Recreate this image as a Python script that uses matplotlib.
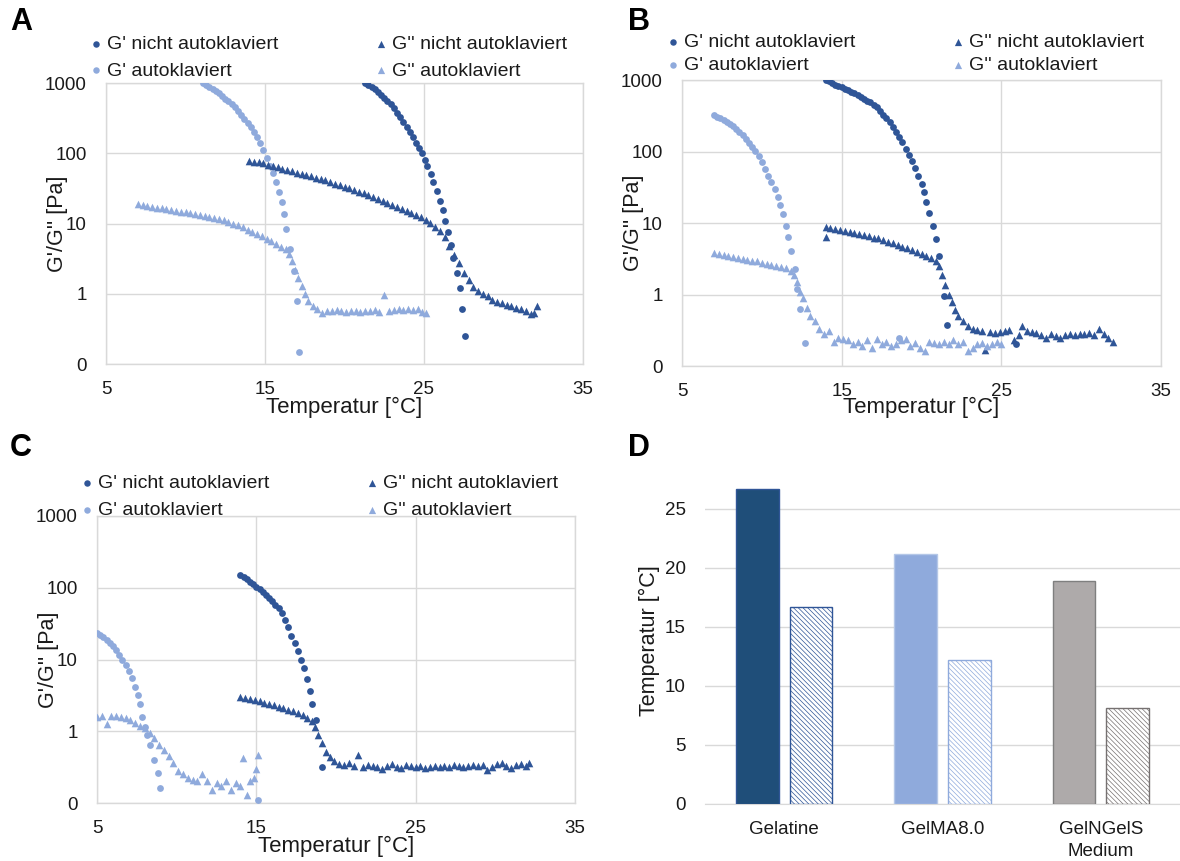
import matplotlib
matplotlib.use("Agg")
import matplotlib.pyplot as plt

plt.rcParams['font.family'] = ['Liberation Sans', 'DejaVu Sans']
plt.rcParams['hatch.linewidth'] = 0.5

# ---------------- Panel A: Gelatine ----------------
A_T_GP_NA = [21.3, 21.5, 21.7, 21.9, 22.1, 22.3, 22.5, 22.7, 22.9, 23.1, 23.3, 23.5, 23.7, 23.9,
             24.1, 24.3, 24.5, 24.7, 24.86, 25.06, 25.21, 25.42, 25.58, 25.8, 26.0, 26.18, 26.32,
             26.53, 26.68, 26.84, 27.05, 27.25, 27.4, 27.6]
A_GP_NA = [1000, 940, 880, 810, 745, 680, 620, 560, 500, 440, 380, 325, 275, 235,
           200, 170, 142, 118, 100, 80, 65, 51, 38.6, 29, 21, 15.4, 10.9,
           7.6, 4.9, 3.2, 2.0, 1.19, 0.6, 0.25]
A_T_GPP_NA = [14.0, 14.3, 14.6, 14.9, 15.2, 15.5, 15.8, 16.1, 16.4, 16.7, 17.0, 17.3, 17.6, 17.9,
              18.2, 18.5, 18.8, 19.1, 19.4, 19.7, 20.0, 20.3, 20.6, 20.9, 21.2, 21.5, 21.8, 22.1,
              22.4, 22.7, 23.0, 23.3, 23.6, 23.9, 24.2, 24.5, 24.8, 25.1, 25.4, 25.7, 26.0, 26.3,
              26.6, 26.9, 27.2, 27.5, 27.8, 28.1, 28.4, 28.7, 29.0, 29.3, 29.6, 29.9, 30.2, 30.5,
              30.8, 31.1, 31.4, 31.7, 31.9, 32.1]
A_GPP_NA = [78, 76, 74, 72, 69, 66, 63, 60, 57, 55, 53, 51, 49, 47,
            45, 43, 41, 39, 37, 35, 33.5, 32, 30, 28.5, 27, 25.5, 24, 22.5,
            21, 19.8, 18.5, 17.2, 16, 15, 14, 13, 12.2, 11.2, 10.2, 9.0, 7.8, 6.5,
            4.8, 3.6, 2.7, 2.0, 1.55, 1.26, 1.1, 1.0, 0.92, 0.82, 0.76, 0.74, 0.70, 0.66,
            0.63, 0.60, 0.56, 0.52, 0.53, 0.68]
A_T_GP_AK = [11.1, 11.3, 11.5, 11.7, 11.9, 12.1, 12.3, 12.5, 12.7, 12.9, 13.1, 13.3, 13.5, 13.7,
             13.9, 14.1, 14.3, 14.5, 14.7, 14.9, 15.1, 15.3, 15.5, 15.7, 15.9, 16.05, 16.2, 16.35,
             16.55, 16.8, 17.0, 17.15]
A_GP_AK = [1000, 950, 890, 830, 770, 710, 655, 600, 550, 500, 450, 400, 355, 310,
           270, 235, 200, 170, 140, 112, 86, 66, 52, 39, 28, 20, 13.5, 8.3,
           4.4, 2.1, 0.8, 0.15]
A_T_GPP_AK = [7.0, 7.3, 7.6, 7.9, 8.2, 8.5, 8.8, 9.1, 9.4, 9.7, 10.0, 10.3, 10.6, 10.9,
              11.2, 11.5, 11.8, 12.1, 12.4, 12.7, 13.0, 13.3, 13.6, 13.9, 14.2, 14.5, 14.8, 15.1,
              15.4, 15.7, 16.0, 16.3, 16.5, 16.7, 16.9, 17.1, 17.3, 17.5, 17.7, 18.0, 18.3, 18.6,
              18.9, 19.2, 19.5, 19.8, 20.1, 20.4, 20.7, 21.0, 21.3, 21.6, 21.9, 22.2, 22.5, 22.8,
              23.1, 23.4, 23.7, 24.0, 24.3, 24.6, 24.9, 25.1]
A_GPP_AK = [18.9, 18.5, 17.8, 17.2, 16.8, 16.5, 16.0, 15.6, 15.2, 14.8, 14.4, 14.0, 13.6, 13.2,
            12.8, 12.3, 11.9, 11.6, 11.2, 10.6, 10.0, 9.4, 8.8, 8.2, 7.6, 7.1, 6.6, 6.1,
            5.6, 5.1, 4.7, 4.3, 3.7, 2.9, 2.2, 1.7, 1.3, 1.0, 0.8, 0.68, 0.6, 0.54,
            0.56, 0.57, 0.58, 0.56, 0.55, 0.57, 0.56, 0.55, 0.57, 0.56, 0.58, 0.55, 0.95, 0.57,
            0.58, 0.60, 0.59, 0.61, 0.58, 0.60, 0.55, 0.53]

# ---------------- Panel B: GelMA8.0 ----------------
B_T_GP_NA = [14.0, 14.2, 14.4, 14.6, 14.8, 15.0, 15.2, 15.4, 15.6, 15.8, 16.0, 16.2, 16.4, 16.6,
             16.8, 17.0, 17.2, 17.4, 17.6, 17.8, 18.0, 18.2, 18.4, 18.6, 18.8, 19.0, 19.2, 19.4,
             19.6, 19.8, 20.0, 20.15, 20.3, 20.5, 20.7, 20.9, 21.1, 21.4, 21.6, 25.9]
B_GP_NA = [1000, 960, 910, 860, 825, 790, 755, 720, 685, 650, 615, 580, 545, 515,
           485, 450, 415, 370, 325, 290, 255, 220, 190, 160, 135, 110, 90, 74,
           58, 46, 35, 27, 19.5, 13.7, 9.2, 5.9, 3.5, 0.94, 0.38, 0.2]
B_T_GPP_NA = [14.0, 14.05, 14.3, 14.6, 14.9, 15.2, 15.5, 15.8, 16.1, 16.4, 16.7, 17.0, 17.3, 17.6,
              17.9, 18.2, 18.5, 18.8, 19.1, 19.4, 19.7, 20.0, 20.3, 20.6, 20.9, 21.1, 21.3, 21.5,
              21.7, 21.9, 22.1, 22.3, 22.6, 22.9, 23.2, 23.5, 23.8, 24.0, 24.3, 24.6, 24.9, 25.2,
              25.5, 25.8, 26.1, 26.3, 26.6, 26.9, 27.2, 27.5, 27.8, 28.1, 28.4, 28.7, 29.0, 29.3,
              29.6, 29.9, 30.2, 30.5, 30.8, 31.1, 31.4, 31.7, 32.0]
B_GPP_NA = [8.9, 6.4, 8.5, 8.2, 7.9, 7.7, 7.5, 7.3, 7.0, 6.7, 6.5, 6.2, 6.1, 5.8,
            5.5, 5.2, 4.9, 4.6, 4.4, 4.2, 3.9, 3.7, 3.4, 3.2, 2.9, 2.5, 1.9, 1.35,
            1.0, 0.78, 0.6, 0.5, 0.42, 0.36, 0.33, 0.32, 0.31, 0.17, 0.3, 0.29, 0.3, 0.31,
            0.32, 0.23, 0.27, 0.36, 0.31, 0.3, 0.29, 0.27, 0.25, 0.28, 0.26, 0.25, 0.27, 0.28,
            0.27, 0.28, 0.28, 0.29, 0.27, 0.33, 0.28, 0.25, 0.22]
B_T_GP_AK = [7.0, 7.2, 7.4, 7.6, 7.8, 8.0, 8.2, 8.4, 8.6, 8.8, 9.0, 9.2, 9.4, 9.6,
             9.8, 10.0, 10.2, 10.4, 10.6, 10.8, 11.0, 11.15, 11.3, 11.5, 11.65, 11.85, 12.05, 12.2,
             12.4, 12.7, 18.6]
B_GP_AK = [322, 305, 290, 275, 260, 243, 225, 207, 188, 168, 150, 132, 117, 103,
           86, 72, 57, 46, 38, 30, 23, 18, 13.3, 9.1, 6.3, 4.0, 2.3, 1.2,
           0.62, 0.21, 0.25]
B_T_GPP_AK = [7.0, 7.3, 7.6, 7.9, 8.2, 8.5, 8.8, 9.1, 9.4, 9.7, 10.0, 10.3, 10.6, 10.9,
              11.2, 11.5, 11.8, 12.0, 12.2, 12.4, 12.6, 12.8, 13.0, 13.3, 13.6, 13.9, 14.2, 14.5,
              14.8, 15.1, 15.4, 15.7, 16.0, 16.3, 16.6, 16.9, 17.2, 17.5, 17.8, 18.1, 18.4, 18.7,
              19.0, 19.3, 19.6, 19.9, 20.2, 20.5, 20.8, 21.1, 21.4, 21.7, 22.0, 22.3, 22.6, 22.9,
              23.2, 23.5, 23.8, 24.1, 24.4, 24.7, 25.0]
B_GPP_AK = [3.8, 3.7, 3.6, 3.5, 3.35, 3.25, 3.15, 3.05, 2.98, 2.9, 2.8, 2.7, 2.6, 2.5,
            2.45, 2.35, 2.1, 1.9, 1.5, 1.1, 0.88, 0.65, 0.5, 0.42, 0.33, 0.28, 0.31, 0.22,
            0.25, 0.24, 0.23, 0.2, 0.22, 0.19, 0.23, 0.18, 0.24, 0.2, 0.22, 0.19, 0.2, 0.23,
            0.24, 0.19, 0.21, 0.18, 0.16, 0.22, 0.21, 0.2, 0.22, 0.2, 0.23, 0.2, 0.22, 0.16,
            0.18, 0.2, 0.21, 0.19, 0.2, 0.22, 0.2]

# ---------------- Panel C: GelNGelS Medium ----------------
C_T_GP_NA = [14.0, 14.2, 14.4, 14.6, 14.8, 15.0, 15.2, 15.4, 15.6, 15.8, 16.0, 16.2, 16.4, 16.6,
             16.8, 17.0, 17.2, 17.4, 17.6, 17.8, 18.0, 18.2, 18.35, 18.5, 18.75, 19.1]
C_GP_NA = [150, 140, 131, 122, 112, 103, 95, 86, 79, 72, 65, 58, 52, 44,
           36, 28, 21, 17, 13, 10, 7.6, 5.3, 3.6, 2.4, 1.45, 0.32]
C_T_GPP_NA = [14.0, 14.3, 14.6, 14.9, 15.2, 15.5, 15.8, 16.1, 16.4, 16.7, 17.0, 17.3, 17.6, 17.9,
              18.2, 18.5, 18.7, 18.9, 19.1, 19.35, 19.6, 19.9, 20.2, 20.5, 20.8, 21.1, 21.4, 21.7,
              22.0, 22.3, 22.6, 22.9, 23.2, 23.5, 23.8, 24.1, 24.4, 24.7, 25.0, 25.3, 25.6, 25.9,
              26.2, 26.5, 26.8, 27.1, 27.4, 27.7, 28.0, 28.3, 28.6, 28.9, 29.2, 29.5, 29.8, 30.1,
              30.4, 30.7, 31.0, 31.3, 31.6, 31.9, 32.1]
C_GPP_NA = [3.0, 2.9, 2.8, 2.7, 2.6, 2.5, 2.4, 2.3, 2.2, 2.1, 2.0, 1.9, 1.8, 1.7,
            1.55, 1.4, 1.15, 0.9, 0.68, 0.52, 0.44, 0.38, 0.35, 0.34, 0.36, 0.33, 0.47, 0.32,
            0.34, 0.33, 0.32, 0.3, 0.33, 0.35, 0.32, 0.31, 0.34, 0.33, 0.32, 0.33, 0.31, 0.32,
            0.33, 0.32, 0.33, 0.32, 0.34, 0.33, 0.32, 0.33, 0.34, 0.33, 0.34, 0.29, 0.32, 0.35,
            0.36, 0.33, 0.31, 0.34, 0.35, 0.33, 0.36]
C_T_GP_AK = [5.0, 5.2, 5.4, 5.6, 5.8, 6.0, 6.2, 6.4, 6.6, 6.8, 7.0, 7.2, 7.4, 7.55,
             7.7, 7.85, 8.0, 8.15, 8.35, 8.55, 8.8, 8.95, 15.1]
C_GP_AK = [23.5, 22, 20.5, 18.8, 17, 15.2, 13.4, 11.7, 10, 8.4, 7.0, 5.5, 4.2, 3.2,
           2.4, 1.6, 1.15, 0.9, 0.65, 0.4, 0.26, 0.16, 0.11]
C_T_GPP_AK = [5.0, 5.3, 5.6, 5.9, 6.2, 6.5, 6.8, 7.1, 7.4, 7.7, 8.0, 8.3, 8.6, 8.9,
              9.2, 9.5, 9.8, 10.1, 10.4, 10.7, 11.0, 11.3, 11.6, 11.9, 12.2, 12.5, 12.8, 13.1,
              13.4, 13.7, 14.0, 14.15, 14.4, 14.6, 14.85, 15.0, 15.1]
C_GPP_AK = [1.6, 1.62, 1.27, 1.63, 1.62, 1.58, 1.55, 1.45, 1.3, 1.2, 1.1, 0.95, 0.8, 0.65,
            0.55, 0.45, 0.36, 0.28, 0.25, 0.22, 0.21, 0.2, 0.25, 0.2, 0.15, 0.19, 0.17, 0.2,
            0.15, 0.19, 0.17, 0.43, 0.13, 0.2, 0.22, 0.3, 0.46]

# ---------------- Panel D: crossover temperatures ----------------
D_CATEGORIES = ['Gelatine', 'GelMA8.0', 'GelNGelS\nMedium']
D_NICHT_AUTOKLAVIERT = [26.7, 21.2, 18.9]
D_AUTOKLAVIERT = [16.7, 12.2, 8.1]

Y_TICKS = [0.1, 1, 10, 100, 1000]
Y_TICK_LABELS = ['0', '1', '10', '100', '1000']
X_TICKS = [5, 15, 25, 35]
LEGEND_LABELS = ["G' nicht autoklaviert", "G' autoklaviert",
                 "G'' nicht autoklaviert", "G'' autoklaviert"]

DARK = '#2F5597'
LIGHT = '#8FAADC'
GRID = '#D9D9D9'
TXT = '#1a1a1a'

W, H = 1180, 861
fig = plt.figure(figsize=(W / 100, H / 100), dpi=100)


def axes_px(left, top, right, bottom):
    return fig.add_axes([left / W, 1 - bottom / H, (right - left) / W, (bottom - top) / H])


def rheology_panel(ax, data, legend_xy, legend_spacing, xlabel_y):
    (t1, g1), (t2, g2), (t3, g3), (t4, g4) = data
    ax.scatter(t1, g1, s=24, marker='o', color=DARK, linewidths=0, label=LEGEND_LABELS[0], zorder=3)
    ax.scatter(t2, g2, s=24, marker='o', color=LIGHT, linewidths=0, label=LEGEND_LABELS[1], zorder=3)
    ax.scatter(t3, g3, s=30, marker='^', color=DARK, linewidths=0, label=LEGEND_LABELS[2], zorder=3)
    ax.scatter(t4, g4, s=30, marker='^', color=LIGHT, linewidths=0, label=LEGEND_LABELS[3], zorder=3)
    ax.set_yscale('log')
    ax.set_xlim(5, 35)
    ax.set_ylim(0.1, 1000)
    ax.set_xticks(X_TICKS)
    ax.set_yticks(Y_TICKS)
    ax.set_yticklabels(Y_TICK_LABELS)
    ax.minorticks_off()
    ax.grid(True, color=GRID, linewidth=1.0)
    ax.set_axisbelow(True)
    for sp in ax.spines.values():
        sp.set_color(GRID)
        sp.set_linewidth(1.0)
    ax.tick_params(axis='both', length=0, labelsize=13.5, colors=TXT)
    ax.tick_params(axis='y', pad=14)
    ax.tick_params(axis='x', pad=12)
    ax.set_xlabel('Temperatur [°C]', fontsize=16, color=TXT)
    ax.xaxis.set_label_coords(0.5, xlabel_y)
    ax.set_ylabel("G'/G'' [Pa]", fontsize=15.5, color=TXT)
    ax.yaxis.set_label_coords(-0.08, 0.5)
    ax.legend(loc='upper left', bbox_to_anchor=(legend_xy[0] / W, 1 - legend_xy[1] / H),
              bbox_transform=fig.transFigure, ncol=2, frameon=False, fontsize=14,
              handlelength=0.6, handletextpad=0.25, columnspacing=5.0,
              labelspacing=legend_spacing, borderpad=0, borderaxespad=0,
              markerscale=0.95, labelcolor=TXT)


axA = axes_px(106, 83, 583, 364)
rheology_panel(axA, [(A_T_GP_NA, A_GP_NA), (A_T_GP_AK, A_GP_AK),
                     (A_T_GPP_NA, A_GPP_NA), (A_T_GPP_AK, A_GPP_AK)],
               (90, 35), 0.48, -0.118)

axB = axes_px(682, 80, 1161, 366)
rheology_panel(axB, [(B_T_GP_NA, B_GP_NA), (B_T_GP_AK, B_GP_AK),
                     (B_T_GPP_NA, B_GPP_NA), (B_T_GPP_AK, B_GPP_AK)],
               (667, 33), 0.30, -0.108)

axC = axes_px(97, 516, 575, 803)
rheology_panel(axC, [(C_T_GP_NA, C_GP_NA), (C_T_GP_AK, C_GP_AK),
                     (C_T_GPP_NA, C_GPP_NA), (C_T_GPP_AK, C_GPP_AK)],
               (81, 474), 0.50, -0.113)

# Bar chart of crossover temperatures
axD = axes_px(705, 478, 1180, 804)
pos = list(range(len(D_CATEGORIES)))
solid_fc = ['#1F4E79', '#8FAADC', '#AEAAAA']
solid_ec = ['#2F5597', '#B4C7E7', '#7F7F7F']
hatch_ec = ['#2F5597', '#8FAADC', '#767171']
off = 0.17
bw = 0.27
for i in pos:
    axD.bar(i - off, D_NICHT_AUTOKLAVIERT[i], width=bw, color=solid_fc[i],
            edgecolor=solid_ec[i], linewidth=1.0, zorder=3)
    axD.bar(i + off, D_AUTOKLAVIERT[i], width=bw, color='white', hatch='\\' * 7,
            edgecolor=hatch_ec[i], linewidth=1.0, zorder=3)
axD.set_xlim(-0.5, 2.5)
axD.set_ylim(0, 27.6)
axD.set_yticks([0, 5, 10, 15, 20, 25])
axD.set_xticks(pos)
axD.set_xticklabels(D_CATEGORIES, fontsize=13.5, color=TXT, linespacing=1.4)
axD.tick_params(axis='both', length=0, labelsize=13.5, colors=TXT)
axD.tick_params(axis='y', pad=14)
axD.tick_params(axis='x', pad=12)
axD.yaxis.grid(True, color=GRID, linewidth=1.0)
axD.set_axisbelow(True)
for sp in ['top', 'right', 'left']:
    axD.spines[sp].set_visible(False)
axD.spines['bottom'].set_color(GRID)
axD.set_ylabel('Temperatur [°C]', fontsize=15.5, color=TXT)
axD.yaxis.set_label_coords(-0.095, 0.5)

for letter, x, y in [('A', 10, 22), ('B', 628, 22), ('C', 10, 448), ('D', 628, 448)]:
    fig.text(x / W, 1 - y / H, letter, fontsize=22, fontweight='bold', ha='left', va='center')

fig.savefig('out.png', dpi=100, facecolor='white')
